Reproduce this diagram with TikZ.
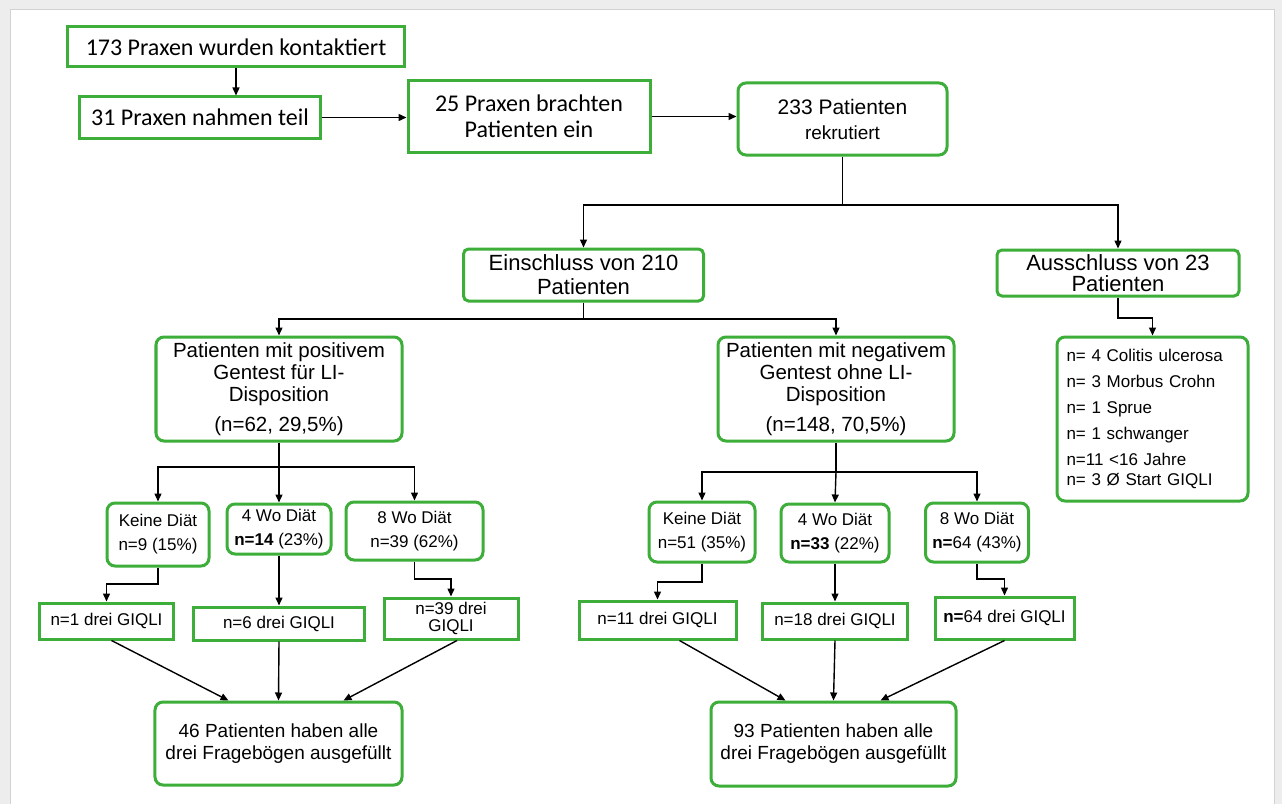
\documentclass[tikz,border=0pt]{standalone}
\usepackage{fontspec}
\setmainfont{Liberation Sans}
\newfontfamily\calfont{Carlito}
\usetikzlibrary{arrows.meta}
\definecolor{boxgreen}{HTML}{3DAE3A}
\tikzset{
  box/.style={draw=boxgreen, line width=3bp, fill=white, inner sep=0pt, align=center, rounded corners=8bp},
  sqbox/.style={box, sharp corners},
  arr/.style={draw=black, line width=1.4bp, -{Triangle[length=8bp,width=7bp]}},
  ln/.style={draw=black, line width=1.4bp},
  fa/.style={font=\fontsize{24bp}{26bp}\selectfont\calfont},
  fb/.style={font=\fontsize{19bp}{22bp}\selectfont},
  fg/.style={font=\fontsize{20.5bp}{22bp}\selectfont},
  fc/.style={font=\fontsize{17bp}{24bp}\selectfont},
}
\begin{document}
\begin{tikzpicture}[x=1bp,y=-1bp]
\useasboundingbox (0,0) rectangle (1282,804);
\fill[gray!14] (0,0) rectangle (1282,804);
\fill[white] (10,10) rectangle (1274,804);
\draw[gray!35, line width=1bp] (10,804) -- (10,10) -- (1274,10) -- (1274,804);

% top row
\node[sqbox, fa, minimum width=336bp, minimum height=40bp] (n1) at (236,47) {173 Praxen wurden kontaktiert};
\node[sqbox, fa, minimum width=240bp, minimum height=41bp] (n2) at (200,117.5) {31 Praxen nahmen teil};
\node[sqbox, fa, minimum width=242bp, minimum height=71bp] (n3) at (529,116.5) {25 Praxen brachten\\Patienten ein};
\node[box, minimum width=209bp, minimum height=72bp] (n4) at (842.5,119)
  {{\fontsize{21bp}{24bp}\selectfont 233 Patienten}\\[10bp]{\fontsize{19bp}{20bp}\selectfont rekrutiert}};

\draw[arr] (n1.south) -- (n1.south |- n2.north);
\draw[arr] (n2.east) -- (n2.east -| n3.west);
\draw[arr] (n3.east) -- (n3.east -| n4.west);

% inclusion / exclusion
\node[box, rounded corners=5bp, font=\fontsize{22bp}{24bp}\selectfont, minimum width=240bp, minimum height=52bp] (ein) at (583.5,275) {Einschluss von 210\\Patienten};
\node[box, rounded corners=5bp, font=\fontsize{22bp}{21bp}\selectfont, minimum width=242bp, minimum height=46bp] (aus) at (1118,273) {Ausschluss von 23\\Patienten};

\coordinate (j1) at (n4.south |- 0,205);
\draw[ln] (n4.south) -- (j1);
\draw[arr] (j1) -| (ein.north);
\draw[arr] (j1) -| (aus.north);

% genetic test groups
\node[box, fg, minimum width=246bp, minimum height=104bp] (pos) at (279,389)
  {\rule{0pt}{6bp}Patienten mit positivem\\Gentest f\"ur LI-\\Disposition\\[8bp](n=62, 29,5\%)};
\node[box, fg, minimum width=236bp, minimum height=104bp] (neg) at (836,389)
  {\rule{0pt}{6bp}Patienten mit negativem\\Gentest ohne LI-\\Disposition\\[8bp](n=148, 70,5\%)};
\node[box, align=left, text width=172bp, font=\fontsize{17bp}{26bp}\selectfont, minimum width=191bp, minimum height=164bp] (excl) at (1152.5,419)
  {n= 4 Colitis ulcerosa\\n= 3 Morbus Crohn\\n= 1 Sprue\\n= 1 schwanger\\n=11 <16 Jahre\\[-6bp]n= 3 \O{} Start GIQLI};

\coordinate (j2) at (ein.south |- 0,319);
\draw[ln] (ein.south) -- (j2);
\draw[arr] (j2) -| (pos.north);
\draw[arr] (j2) -| (neg.north);
\draw[arr] (aus.south) |- (1135,318) -| (excl.north);

% diet groups, positive
\node[box, fc, minimum width=102bp, minimum height=63bp] (pk) at (158,534.5) {Keine Di\"at\\n=9 (15\%)};
\node[box, fc, minimum width=104bp, minimum height=50bp] (p4) at (279,529) {4 Wo Di\"at\\\textbf{n=14} (23\%)};
\node[box, fc, minimum width=137bp, minimum height=58bp] (p8) at (414.5,531) {8 Wo Di\"at\\n=39 (62\%)};

\coordinate (j4) at (pos.south |- 0,467);
\draw[ln] (pos.south) -- (j4);
\draw[arr] (j4) -| (pk.north);
\draw[arr] (j4) -- (p4.north);
\draw[arr] (j4) -| (p8.north);

% diet groups, negative
\node[box, fc, minimum width=106bp, minimum height=60bp] (nk) at (702,532) {Keine Di\"at\\n=51 (35\%)};
\node[box, fc, minimum width=108bp, minimum height=58bp] (nw4) at (835,533) {4 Wo Di\"at\\\textbf{n=33} (22\%)};
\node[box, fc, minimum width=103bp, minimum height=59bp] (nw8) at (977,532.5) {8 Wo Di\"at\\\textbf{n=}64 (43\%)};

\coordinate (j5) at (neg.south |- 0,472);
\draw[ln] (neg.south) -- (j5);
\draw[arr] (j5) -| (nk.north);
\draw[arr] (j5) -- (nw4.north);
\draw[arr] (j5) -| (nw8.north);

% GIQLI boxes, positive
\node[box, sharp corners, fc, minimum width=133bp, minimum height=36bp] (g1) at (106.5,621) {n=1 drei GIQLI};
\node[box, sharp corners, fc, minimum width=171bp, minimum height=33bp] (g6) at (279,623.5) {n=6 drei GIQLI};
\node[box, sharp corners, font=\fontsize{17bp}{17bp}\selectfont, minimum width=134bp, minimum height=41bp] (g39) at (451,618.5) {n=39 drei\\GIQLI};

\draw[arr] (pk.south) |- (130,584) -| (g1.north);
\draw[arr] (p4.south) -- (p4.south |- g6.north);
\draw[arr] (p8.south) |- (430,579) -| (g39.north);

% GIQLI boxes, negative
\node[box, sharp corners, fc, minimum width=157bp, minimum height=38bp] (g11) at (657.5,620) {n=11 drei GIQLI};
\node[box, sharp corners, fc, minimum width=145bp, minimum height=36bp] (g18) at (835,621) {n=18 drei GIQLI};
\node[box, sharp corners, fc, minimum width=139bp, minimum height=42bp] (g64) at (1004.5,618) {\textbf{n=}64 drei GIQLI};

\draw[arr] (nk.south) |- (680,582) -| (g11.north);
\draw[arr] (nw4.south) -- (nw4.south |- g18.north);
\draw[arr] (nw8.south) |- (990,579) -| (g64.north);

% final boxes
\node[box, fb, minimum width=247bp, minimum height=83bp] (f46) at (278.5,743.5) {46 Patienten haben alle\\drei Frageb\"ogen ausgef\"ullt};
\node[box, fb, minimum width=245bp, minimum height=84bp] (f93) at (833.5,744) {93 Patienten haben alle\\drei Frageb\"ogen ausgef\"ullt};

\draw[arr] ([xshift=5bp]g1.south) -- ([xshift=-50bp]f46.north);
\draw[arr] (g6.south) -- (f46.north);
\draw[arr] ([xshift=6bp]g39.south) -- ([xshift=65bp]f46.north);

\draw[arr] ([xshift=22bp]g11.south) -- ([xshift=-48bp]f93.north);
\draw[arr] (g18.south) -- (f93.north);
\draw[arr] (g64.south) -- ([xshift=47bp]f93.north);
\end{tikzpicture}
\end{document}
